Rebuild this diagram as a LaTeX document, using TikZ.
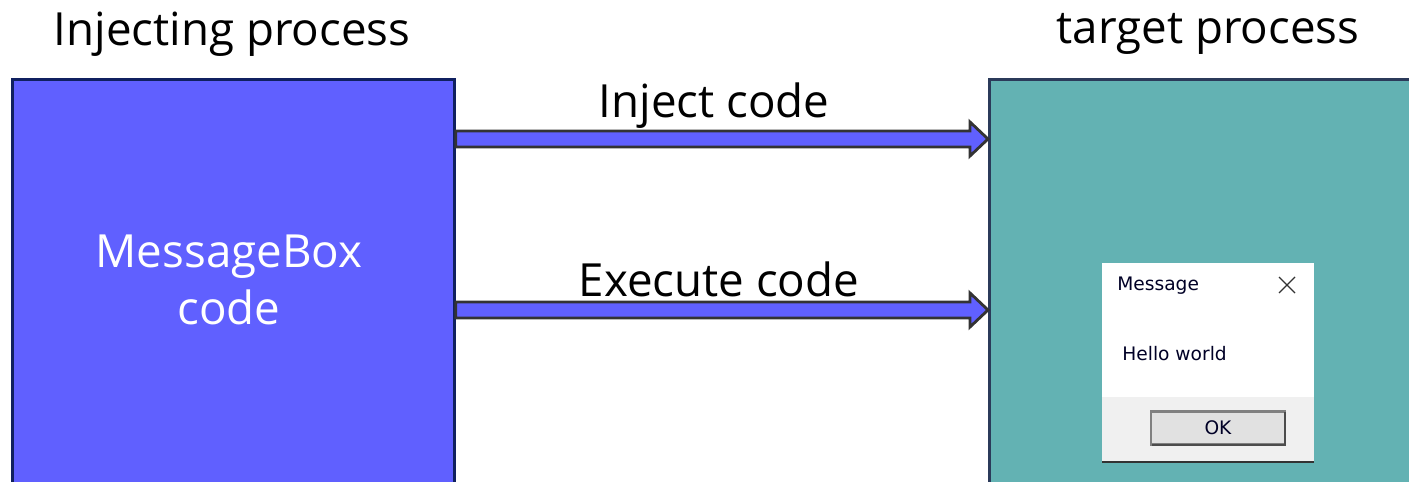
\documentclass[tikz,border=0pt]{standalone}
\usepackage{fontspec}
\setmainfont{Open Sans}
\newfontfamily\dlgfont{DejaVu Sans}
\usetikzlibrary{positioning, calc}

\definecolor{injblue}{RGB}{96,96,255}
\definecolor{injedge}{RGB}{16,32,96}
\definecolor{tgtteal}{RGB}{99,178,179}
\definecolor{tgtedge}{RGB}{43,58,90}
\definecolor{dlggray}{RGB}{240,240,240}
\definecolor{btngray}{RGB}{225,225,225}

\tikzset{
  procbox/.style={draw, line width=1.6pt, anchor=north west, inner sep=0pt},
  title/.style={font=\fontsize{26}{31}\selectfont},
  biglabel/.style={font=\fontsize{26}{32.5}\selectfont, align=center},
  pipe/.style={draw=black!80, line width=1.6pt, fill=injblue, line join=miter},
  dlgtext/.style={font=\dlgfont\fontsize{10.6}{12}\selectfont, text=black!85!blue, inner sep=0pt}
}

% fat outlined arrow between two boxes at height #3
\newcommand{\pipearrow}[3]{%
  \coordinate (pa) at (#1.east |- 0,#3);
  \coordinate (pb) at (#2.west |- 0,#3);
  \draw[pipe] ($(pa)+(0,-8)$) -- ($(pb)+(-18,-8)$) -- ($(pb)+(-18,-17)$)
    -- (pb) -- ($(pb)+(-18,17)$) -- ($(pb)+(-18,8)$) -- ($(pa)+(0,8)$) -- cycle;
}

\begin{document}
\begin{tikzpicture}[x=0.02cm, y=-0.02cm]
  \useasboundingbox (0,0) rectangle (1409,482);
  \clip (0,0) rectangle (1409,482);

  % the two processes
  \node (inj) [procbox, fill=injblue, draw=injedge, minimum width=8.84cm, minimum height=9cm] at (11,78) {};
  \node (tgt) [procbox, fill=tgtteal, draw=tgtedge, minimum width=9cm, minimum height=9cm] at (988,78) {};

  \node (injtitle) [title] at (232,34) {Injecting process};
  \node (tgttitle) [title] at (1208,34) {target process};
  \node (payload) [biglabel, text=white] at (229,280) {MessageBox\\code};

  % injection and execution
  \pipearrow{inj}{tgt}{139}
  \node (injlbl) [title] at (714,106) {Inject code};
  \pipearrow{inj}{tgt}{310}
  \node (execlbl) [title] at (719,279) {Execute code};

  % message box shown in the target
  \fill[white] (1102,263) rectangle (1314,397);
  \fill[dlggray] (1102,397) rectangle (1314,462);
  \draw[black!80, line width=0.8pt] (1102,462) -- (1314,462);
  \node (dlgcap) [dlgtext, anchor=west] at (1117,286) {Message};
  \draw[black!80, line width=0.7pt] (1279,277) -- (1295,293) (1279,293) -- (1295,277);
  \node (dlgmsg) [dlgtext, anchor=west] at (1122,354) {Hello world};
  \node (okbtn) [draw=gray, line width=1.2pt, fill=btngray, minimum width=2.68cm, minimum height=0.66cm, inner sep=0pt] at (1218,428) {};
  \draw[gray!60!black, line width=1.2pt] (1152,445) -- (1285,445) -- (1285,412);
  \node (oktext) [dlgtext] at (okbtn.center) {OK};
\end{tikzpicture}
\end{document}
